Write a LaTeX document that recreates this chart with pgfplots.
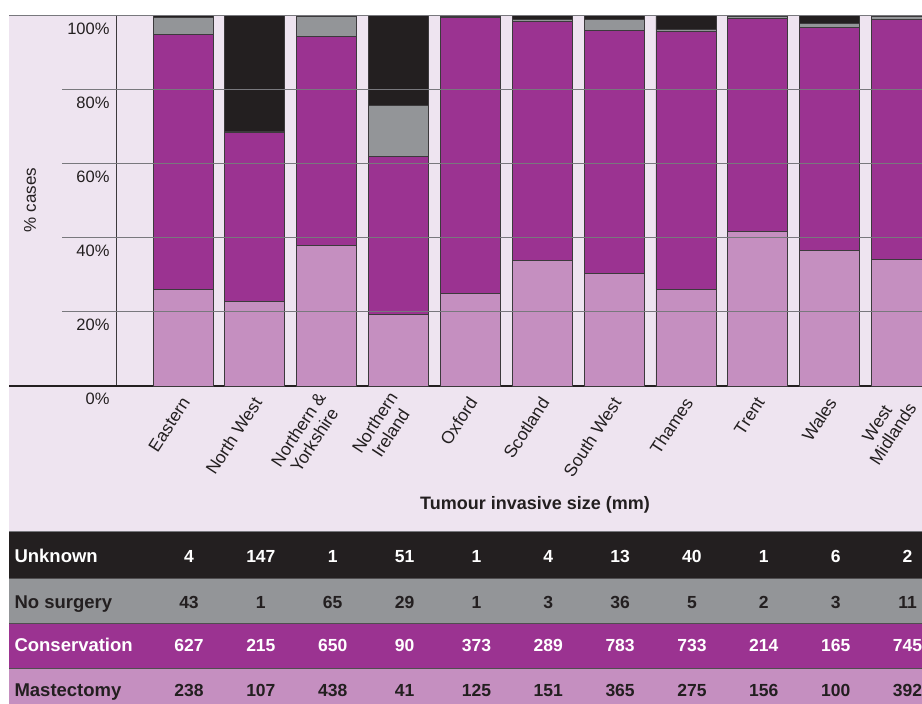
\documentclass[border=0pt]{standalone}
\usepackage{fontspec}
\setmainfont{Liberation Sans}
\usepackage{pgfplots}
\pgfplotsset{compat=1.18}
\usepackage{pgfplotstable}

\definecolor{bgl}{RGB}{238,228,240}
\definecolor{mast}{RGB}{197,143,192}
\definecolor{cons}{RGB}{155,51,145}
\definecolor{nosurg}{RGB}{147,149,152}
\definecolor{unk}{RGB}{35,31,32}
\definecolor{gridc}{RGB}{120,120,125}
\definecolor{txt}{RGB}{35,31,32}
\definecolor{barline}{RGB}{60,58,60}
\definecolor{sepc}{RGB}{80,78,80}

% percentages of cases per region (from the counts in the table)
\pgfplotstableread{
x M C N U
0 26.096 68.750 4.715 0.439
1 22.766 45.745 0.213 31.277
2 37.955 56.326 5.633 0.087
3 19.431 42.654 13.744 24.171
4 25.000 74.600 0.200 0.200
5 33.781 64.653 0.671 0.895
6 30.493 65.414 3.008 1.086
7 26.116 69.611 0.475 3.799
8 41.823 57.373 0.536 0.268
9 36.496 60.219 1.095 2.190
10 34.087 64.783 0.957 0.174
}\pct

\begin{document}
\begin{tikzpicture}[x=1pt,y=1pt]
\useasboundingbox (0,0) rectangle (922,704);
\clip (0,0) rectangle (922,704);
\fill[white] (0,0) rectangle (922,704);
\fill[bgl] (9,172.5) rectangle (922,688.3);
% table rows
\fill[unk] (9,126) rectangle (922,172.5);
\fill[nosurg] (9,81) rectangle (922,126);
\fill[cons] (9,36) rectangle (922,81);
\fill[mast] (9,-5) rectangle (922,36);
\draw[gridc, line width=0.8pt] (9,172.5) -- (922,172.5);
\draw[sepc, line width=0.8pt] (9,126) -- (922,126);
\draw[sepc, line width=0.8pt] (9,81) -- (922,81);
\draw[sepc, line width=0.8pt] (9,36) -- (922,36);

\begin{axis}[
  at={(117pt,318pt)}, anchor=south west,
  scale only axis, width=805pt, height=370.3pt,
  xmin=-0.9186, xmax=10.2853, ymin=0, ymax=100,
  clip=false,
  ybar stacked, bar width=60pt,
  axis x line*=bottom, axis y line*=left,
  x axis line style={draw=none},
  y axis line style={draw=barline, line width=1pt},
  major tick length=0pt,
  xtick={0,...,10},
  xticklabels={Eastern, North West, {Northern \&\\Yorkshire}, {Northern\\Ireland}, Oxford, Scotland, South West, Thames, Trent, Wales, {West\\Midlands}},
  xticklabel style={font=\fontsize{17.5}{19}\selectfont, text=txt, rotate=57, anchor=east, align=center, xshift=-6.2pt, yshift=-9.4pt},
  ytick={0,20,40,60,80,100},
  yticklabels={0\%,20\%,40\%,60\%,80\%,100\%},
  yticklabel style={font=\fontsize{16.5}{18}\selectfont, text=txt, xshift=-4pt, yshift=-13pt},
]
% grid lines (behind bars)
\draw[gridc, line width=1pt] (axis cs:-1.684,20) -- (axis cs:10.2853,20);
\draw[gridc, line width=1pt] (axis cs:-1.684,40) -- (axis cs:10.2853,40);
\draw[gridc, line width=1pt] (axis cs:-1.684,60) -- (axis cs:10.2853,60);
\draw[gridc, line width=1pt] (axis cs:-1.684,80) -- (axis cs:10.2853,80);
\draw[gridc, line width=1pt] (axis cs:-2.4217,100) -- (axis cs:10.2853,100);

\addplot[fill=mast, draw=barline, line width=0.9pt] table[x=x,y=M]{\pct};
\addplot[fill=cons, draw=barline, line width=0.9pt] table[x=x,y=C]{\pct};
\addplot[fill=nosurg, draw=barline, line width=0.9pt] table[x=x,y=N]{\pct};
\addplot[fill=unk, draw=barline, line width=0.9pt] table[x=x,y=U]{\pct};

\draw[unk, line width=1.2pt] (axis cs:-2.4217,0) -- (axis cs:10.2853,0);
\end{axis}

% axis descriptions
\node[rotate=90, font=\fontsize{17}{18}\selectfont, text=txt] at (30,504) {\% cases};
\node[font=\bfseries\fontsize{18}{20}\selectfont, text=txt] at (535,199) {Tumour invasive size (mm)};

% table text
\node[anchor=base west, font=\bfseries\fontsize{18.5}{20}\selectfont, text=white] at (11,141.3) {Unknown};
\node[anchor=base west, font=\bfseries\fontsize{18.5}{20}\selectfont, text=txt] at (11,95.7) {No surgery};
\node[anchor=base west, font=\bfseries\fontsize{18.5}{20}\selectfont, text=white] at (11,52) {Conservation};
\node[anchor=base west, font=\bfseries\fontsize{18.5}{20}\selectfont, text=txt] at (11,7) {Mastectomy};

\foreach \v [count=\i from 0] in {4,147,1,51,1,4,13,40,1,6,2}
  \node[anchor=base, font=\bfseries\fontsize{17.5}{20}\selectfont, text=white] at (189+71.85*\i,141.3) {\v};
\foreach \v [count=\i from 0] in {43,1,65,29,1,3,36,5,2,3,11}
  \node[anchor=base, font=\bfseries\fontsize{17.5}{20}\selectfont, text=txt] at (189+71.85*\i,95.7) {\v};
\foreach \v [count=\i from 0] in {627,215,650,90,373,289,783,733,214,165,745}
  \node[anchor=base, font=\bfseries\fontsize{17.5}{20}\selectfont, text=white] at (189+71.85*\i,52) {\v};
\foreach \v [count=\i from 0] in {238,107,438,41,125,151,365,275,156,100,392}
  \node[anchor=base, font=\bfseries\fontsize{17.5}{20}\selectfont, text=txt] at (189+71.85*\i,7) {\v};
\end{tikzpicture}
\end{document}
